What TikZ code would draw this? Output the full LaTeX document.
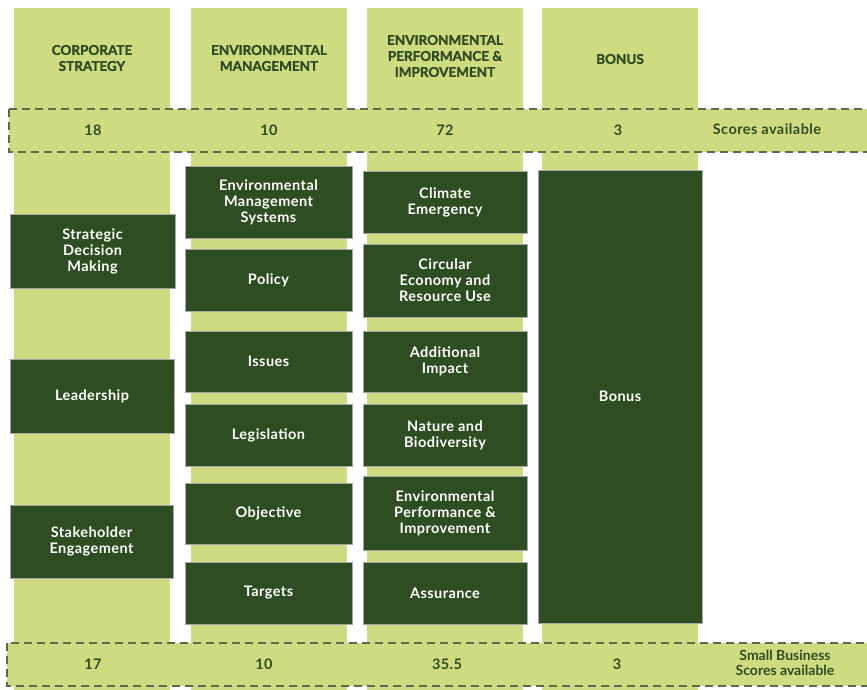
\documentclass[tikz,border=0pt]{standalone}
\usepackage{fontspec}
\setmainfont{Lato}
\newfontfamily\heavyfont{Lato}[BoldFeatures={FakeBold=1.6}]
\newfontfamily\widefont{Lato}[LetterSpace=3]
\usetikzlibrary{positioning}

\definecolor{palegreen}{HTML}{CEDB81}
\definecolor{deepgreen}{HTML}{2F4D22}
\definecolor{dashgrey}{HTML}{5C6B50}

\begin{document}
\begin{tikzpicture}[
  x=1pt, y=-1pt,
  column/.style={fill=palegreen},
  band/.style={
    fill=palegreen, draw=dashgrey, line width=1.8pt,
    dash pattern=on 8pt off 5pt
  },
  header/.style={
    text=deepgreen, align=center, inner sep=0pt,
    font=\heavyfont\fontsize{13.5}{16}\selectfont\bfseries
  },
  score/.style={
    text=deepgreen, align=center, inner sep=0pt,
    font=\widefont\fontsize{14.5}{15.5}\selectfont\bfseries
  },
  box/.style={
    rectangle, draw=black!35, line width=0.6pt, fill=deepgreen,
    text=white, align=center, inner sep=0pt,
    font=\widefont\fontsize{14.5}{16}\selectfont\bfseries
  }
]
  \useasboundingbox (0,0) rectangle (867,689);
  \clip (0,0) rectangle (867,689);

  % Pale columns and score bands
  \fill[column] (14,8) rectangle (170,700);
  \fill[column] (191,8) rectangle (347,700);
  \fill[column] (367,8) rectangle (523,700);
  \fill[column] (542,8) rectangle (698,700);
  \draw[band] (9,109) rectangle (880,152);
  \draw[band] (7,643) rectangle (880,686);

  % Column headers
  \node[header] (hcorp) at (92,58) {CORPORATE\\STRATEGY};
  \node[header] (hman) at (269,58) {ENVIRONMENTAL\\MANAGEMENT};
  \node[header] (hperf) at (445,56) {ENVIRONMENTAL\\PERFORMANCE \&\\IMPROVEMENT};
  \node[header] (hbonus) at (620,59) {BONUS};

  % Scores available
  \node[score] (tcorp) at (93,130) {18};
  \node[score] (tman) at (269,130) {10};
  \node[score] (tperf) at (445,130) {72};
  \node[score] (tbonus) at (618,130) {3};
  \node[score] (tlabel) at (767,129) {Scores available};

  % Small business scores
  \node[score] (scorp) at (93,664) {17};
  \node[score] (sman) at (264,664) {10};
  \node[score] (sperf) at (447,664) {35.5};
  \node[score] (sbonus) at (617,664) {3};
  \node[score, font=\fontsize{14}{15}\selectfont\bfseries] (slabel) at (785,663) {Small Business\\Scores available};

  % Corporate strategy
  \node[box, minimum width=165pt, minimum height=74pt] (sdm) at (92.5,251) {Strategic\\Decision\\Making};
  \node[box, minimum width=164pt, minimum height=74pt] (lead) at (92,396) {Leadership};
  \node[box, minimum width=163pt, minimum height=73pt] (stake) at (91.5,541.5) {Stakeholder\\Engagement};

  % Environmental management
  \node[box, minimum width=167pt, minimum height=72pt] (ems) at (268.5,202) {Environmental\\Management\\Systems};
  \node[box, minimum width=167pt, minimum height=62pt] (policy) at (268.5,280) {Policy};
  \node[box, minimum width=167pt, minimum height=61pt] (issues) at (268.5,361.5) {Issues};
  \node[box, minimum width=167pt, minimum height=62pt] (legis) at (268.5,435) {Legislation};
  \node[box, minimum width=167pt, minimum height=61pt] (obj) at (268.5,513.5) {Objective};
  \node[box, minimum width=167pt, minimum height=62pt] (targets) at (268.5,593) {Targets};

  % Environmental performance & improvement
  \node[box, minimum width=164pt, minimum height=62pt] (climate) at (445,202) {Climate\\Emergency};
  \node[box, minimum width=164pt, minimum height=73pt] (circular) at (445,280.5) {Circular\\Economy and\\Resource Use};
  \node[box, minimum width=164pt, minimum height=61pt] (addimp) at (445,361.5) {Additional\\Impact};
  \node[box, minimum width=164pt, minimum height=62pt] (nature) at (445,435) {Nature and\\Biodiversity};
  \node[box, minimum width=164pt, minimum height=74pt] (epi) at (445,513) {Environmental\\Performance \&\\Improvement};
  \node[box, minimum width=164pt, minimum height=62pt] (assur) at (445,593) {Assurance};

  % Bonus
  \node[box, minimum width=164pt, minimum height=453pt] (bonus) at (620,396.5) {Bonus};
\end{tikzpicture}
\end{document}
